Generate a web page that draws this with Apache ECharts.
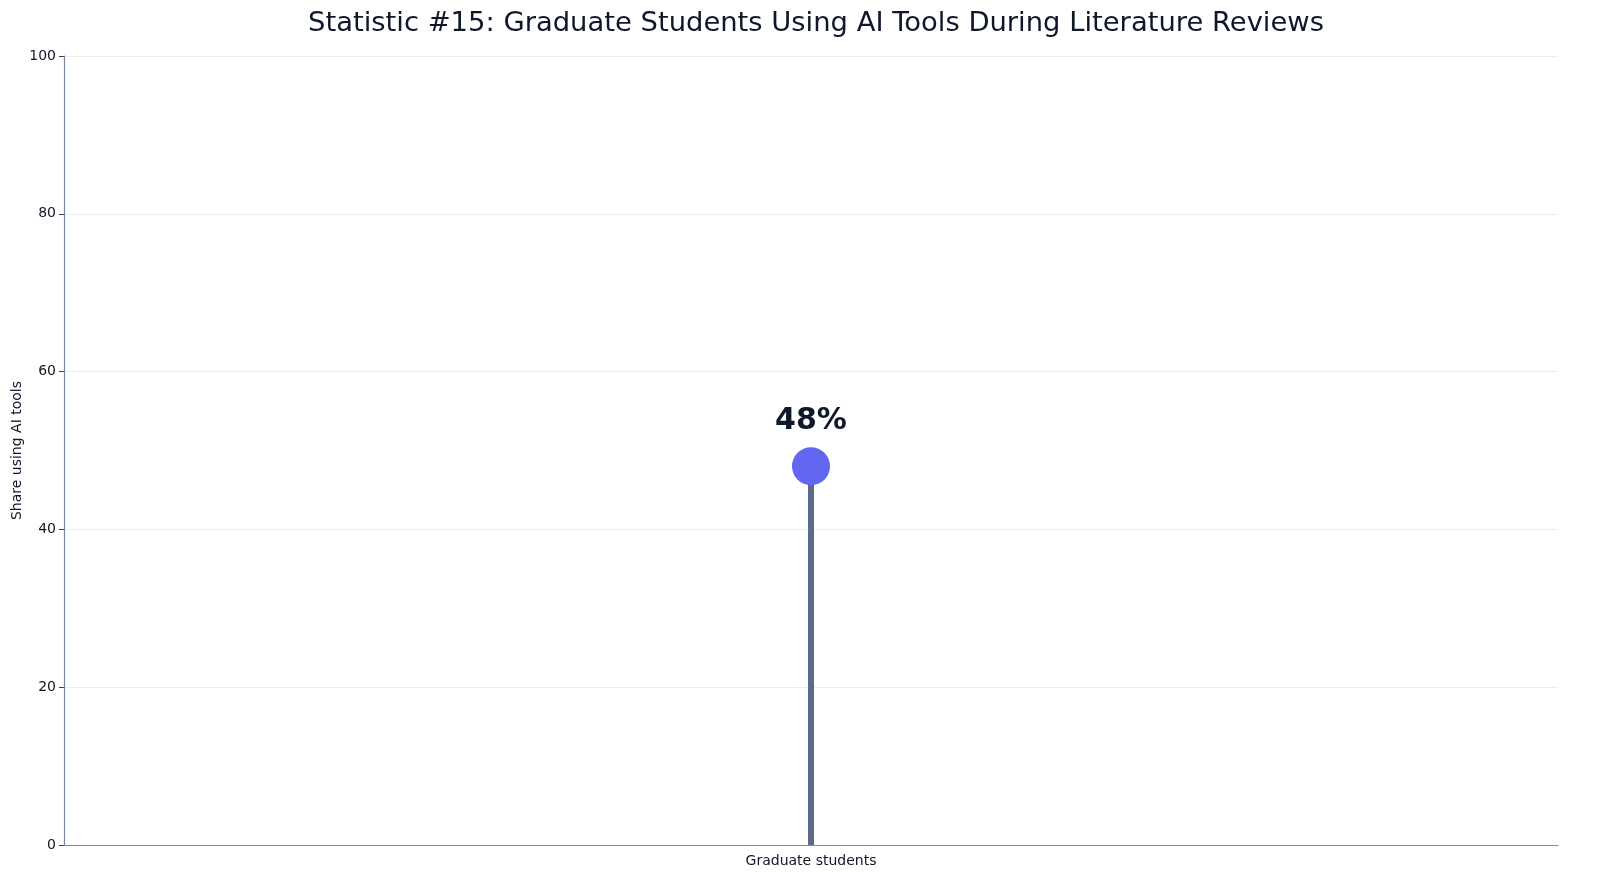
<!DOCTYPE html>
<html>
<head>
<meta charset="utf-8">
<script src="https://cdn.jsdelivr.net/npm/echarts@6/dist/echarts.min.js"></script>
<style>
  html, body { margin: 0; padding: 0; background: #fff; }
  #chart { width: 1600px; height: 896px; }
</style>
</head>
<body>
<div id="chart"></div>
<script>
"use strict";
var categories = ['Graduate students'];
var shares = [48];
var yTicks = [0, 20, 40, 60, 80, 100];

var chart = echarts.init(document.getElementById('chart'));
var font = 'DejaVu Sans';
var option = {
    animation: false,
    title: {
        text: 'Statistic #15: Graduate Students Using AI Tools During Literature Reviews',
        left: 811,
        textAlign: 'center',
        top: 5,
        textStyle: { fontFamily: font, fontSize: 27.4, fontWeight: 'normal', color: '#0f172a' }
    },
    grid: { left: 64, right: 42, top: 56, bottom: 51, outerBoundsMode: 'none', containLabel: false },
    xAxis: {
        type: 'category',
        data: categories,
        boundaryGap: true,
        axisLine: { lineStyle: { color: '#7a88a3', width: 1.2 } },
        axisTick: { alignWithLabel: true, length: 5, lineStyle: { color: '#334155' } },
        axisLabel: { fontFamily: font, fontSize: 14, color: '#0f172a', margin: 9 },
        splitLine: { show: false }
    },
    yAxis: {
        type: 'value',
        min: yTicks[0],
        max: yTicks[yTicks.length - 1],
        interval: 20,
        name: 'Share using AI tools',
        nameLocation: 'middle',
        nameGap: 40,
        nameMoveOverlap: false,
        nameTextStyle: { fontFamily: font, fontSize: 14, color: '#0f172a' },
        axisLine: { show: true, lineStyle: { color: '#7a88a3', width: 1.2 } },
        axisTick: { show: true, length: 5, lineStyle: { color: '#334155' } },
        axisLabel: { fontFamily: font, fontSize: 14, color: '#0f172a', margin: 8 },
        splitLine: { lineStyle: { color: '#ececec', width: 1 } }
    },
    series: [
        {
            type: 'bar',
            data: shares,
            barWidth: 6,
            itemStyle: { color: '#5b6b88' },
            z: 2
        },
        {
            type: 'scatter',
            data: shares,
            symbol: 'circle',
            symbolSize: 38,
            itemStyle: { color: '#6366f1', opacity: 1 },
            label: {
                show: true,
                position: 'top',
                distance: 11,
                formatter: function (p) { return p.value + '%'; },
                fontFamily: font,
                fontSize: 30,
                fontWeight: 'bold',
                color: '#0f172a'
            },
            z: 3
        }
    ]
};
chart.setOption(option);
</script>
</body>
</html>
